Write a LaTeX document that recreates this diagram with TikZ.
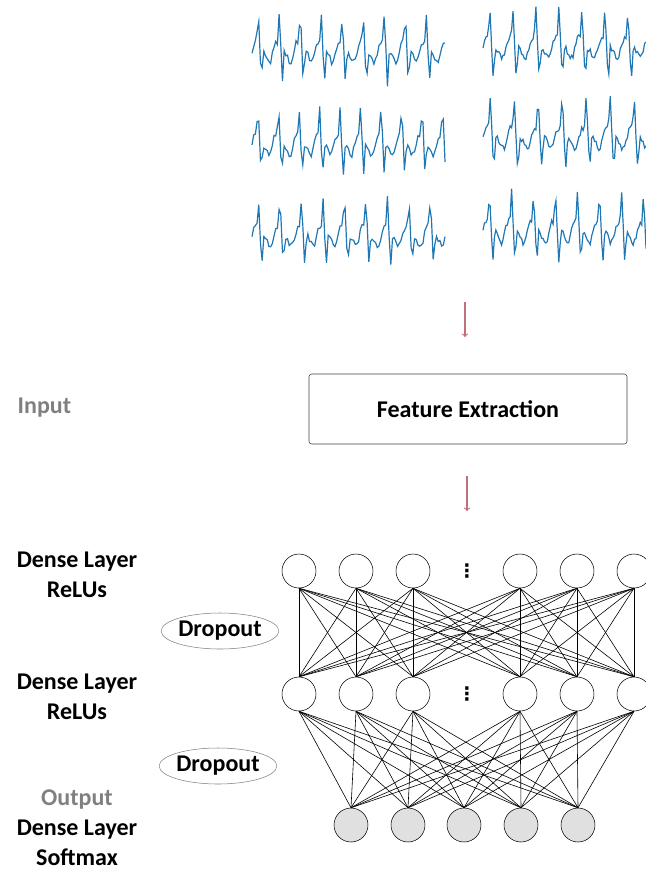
\documentclass[tikz,border=0pt]{standalone}
\usepackage{fontspec}
\setmainfont{Carlito}
\newfontfamily\dotsfont{DejaVu Sans}
\usetikzlibrary{shapes.geometric}

\definecolor{sigblue}{RGB}{31,119,180}
\definecolor{arrowred}{RGB}{192,112,120}
\definecolor{labelgray}{RGB}{128,128,128}
\definecolor{outfill}{RGB}{224,224,224}

\begin{document}
\begin{tikzpicture}[x=0.75pt,y=-0.75pt,
  neuron/.style={circle,draw,thin,minimum size=25.5pt,inner sep=0pt},
  outneuron/.style={neuron,fill=outfill},
  layername/.style={font=\fontsize{18}{22.5}\selectfont\bfseries,align=center},
  dropbox/.style={ellipse,draw=gray,thin,minimum width=83pt,minimum height=27pt,inner sep=0pt,font=\fontsize{18}{22.5}\selectfont\bfseries},
  flow/.style={->,arrowred,line width=0.8pt},
  link/.style={line width=0.45pt},
  skip/.style={inner sep=0pt,font=\dotsfont\bfseries\fontsize{14}{14}\selectfont}]
\useasboundingbox (0,0) rectangle (646,872);

% input signals
\foreach \sx/\sy/\sw/\per/\sd in {252/52/193/21/3, 252/145/193/20.5/5, 252/236/193/21.5/7,
                                  483/48/163/23/11, 483/138/163/24/13, 483/232/163/22/17} {
  \pgfmathsetseed{\sd}
  \draw[sigblue,line width=0.9pt] plot[domain=0:\sw,samples=115]
    ({\sx+\x},{\sy-36*max(0,1-abs(mod(\x,\per)/\per-0.3)/0.08)+32*max(0,1-abs(mod(\x,\per)/\per-0.45)/0.08)-8*sin(mod(\x,\per)/\per*360)-4*sin(mod(\x,\per)/\per*720)+3*rand});
}

% flow
\coordinate (a1s) at (465,302);
\coordinate (a1e) at (465,337);
\draw[flow] (a1s) -- (a1e);
\node[draw=black!75,rounded corners=2pt,minimum width=238.5pt,minimum height=52.5pt,
  font=\fontsize{18}{22.5}\selectfont\bfseries] (fe) at (468,409) {Feature Extraction};
\coordinate (a2s) at (467,476);
\coordinate (a2e) at (467,511);
\draw[flow] (a2s) -- (a2e);

% network
\foreach \x [count=\i] in {299,356,413,520,577,634} {
  \node[neuron] (h1-\i) at (\x,571) {};
  \node[neuron] (h2-\i) at (\x,694) {};
}
\foreach \x [count=\i] in {351,408,464,521,578}
  \node[outneuron] (o-\i) at (\x,825) {};
\node[skip] (dots1) at (467,571) {⋮};
\node[skip] (dots2) at (467,694) {⋮};
\foreach \i in {1,...,6}
  \foreach \j in {1,...,6}
    \draw[link] (h1-\i.south) -- (h2-\j.north);
\foreach \i in {1,...,6}
  \foreach \j in {1,...,5}
    \draw[link] (h2-\i.south) -- (o-\j.north);

% labels
\node[layername,labelgray,anchor=west] (inlbl) at (13,408) {Input};
\node[layername] (hl1) at (77,575) {Dense Layer\\ReLUs};
\node[layername] (hl2) at (77,697) {Dense Layer\\ReLUs};
\node[layername] (outl) at (77,828) {{\color{labelgray}Output}\\Dense Layer\\Softmax};
\node[dropbox] (do1) at (220,631) {Dropout};
\node[dropbox] (do2) at (218,766) {Dropout};
\end{tikzpicture}
\end{document}
